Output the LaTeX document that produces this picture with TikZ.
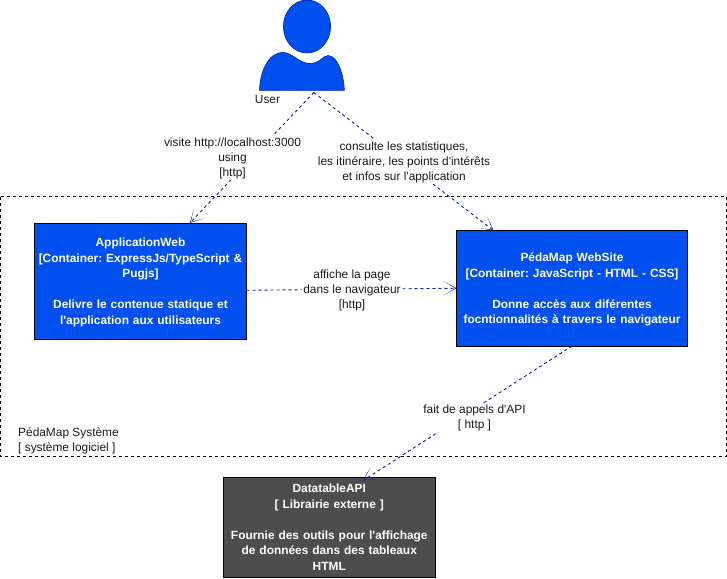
\documentclass[tikz,border=0pt]{standalone}
\usepackage{fontspec}
\setmainfont{Liberation Sans}
\usetikzlibrary{calc,arrows.meta}
\definecolor{bluefill}{HTML}{0050EF}
\definecolor{bluestroke}{HTML}{001DBC}
\definecolor{greyfill}{HTML}{4D4D4D}
\definecolor{txt}{HTML}{1A1A1A}
\newcommand{\topnudge}{\rule{0pt}{11.5pt}}
\tikzset{
  x=1pt,y=-1pt,
  box/.style={draw=black,line width=.9pt,outer sep=0pt,minimum width=#1 pt,text width=#1 pt - 2pt,align=center,font=\fontsize{11.9}{15.5}\selectfont\bfseries\frenchspacing,text=white,inner sep=0pt,anchor=north west},
  link/.style={draw=bluestroke,line width=.9pt,dash pattern=on 3pt off 3pt,-{Stealth[length=13pt,width=14pt,inset=11.7pt,line width=0pt,fill=bluestroke]}},
  lbl/.style={fill=white,align=center,text=txt,font=\fontsize{11.9}{15}\selectfont\frenchspacing,inner sep=1pt},
  plain/.style={align=left,text=txt,font=\fontsize{11.9}{15}\selectfont\frenchspacing,inner sep=0pt},
}
\begin{document}
\begin{tikzpicture}
\useasboundingbox (0,0) rectangle (727,578);
\draw[black,line width=.8pt,dash pattern=on 3pt off 3pt] (0.5,196.5) rectangle (726.3,456.5);
\fill[bluefill,draw=bluestroke,line width=.6pt] (307,26.5) ellipse [x radius=23.6,y radius=26.5];
\fill[bluefill,draw=bluestroke,line width=.6pt] (259.5,90.3)
  .. controls (260,72) and (268,52.5) .. (283,52.5)
  .. controls (292,52.5) and (299,63.5) .. (310,63.5)
  .. controls (320,63.5) and (323,55.5) .. (328,55.5)
  .. controls (338,55.5) and (344,76) .. (344.3,90.3) -- cycle;
\node[minimum width=85pt,minimum height=91pt,inner sep=0pt,outer sep=0pt] (user) at (301.5,45) {};
\node[plain,anchor=center] (userlabel) at (267.5,99.5) {User};
\node[box=212,minimum height=116pt,fill=bluefill] (app) at (34.5,223) {\topnudge ApplicationWeb\\{}[Container: ExpressJs/TypeScript \&\\Pugjs]\\[15.5pt]Delivre le contenue statique et\\l\textquotesingle application aux utilisateurs};
\node[box=231,minimum height=115.5pt,fill=bluefill] (site) at (456.5,230.5) {\topnudge PédaMap WebSite\\{}[Container: JavaScript - HTML - CSS]\\[15.5pt]Donne accès aux diférentes\\focntionnalités à travers le navigateur};
\node[box=211.5,minimum height=100pt,fill=greyfill] (api) at (223.5,477) {DatatableAPI\\{}[ Librairie externe ]\\[15.5pt]Fournie des outils pour l\textquotesingle affichage\\de données dans des tableaux\\HTML};
\coordinate (uout) at ($(user.south west)!0.645!(user.south east)+(0,2)$);
\draw[link] (uout) -- ($(app.north west)!0.733!(app.north east)$);
\draw[link] (uout) -- ($(site.north west)!0.16!(site.north east)$);
\draw[link] ($(app.south east)!0.42!(app.north east)$) -- ($(site.south west)!0.5!(site.north west)$);
\draw[link] ($(site.south west)!0.5!(site.south east)$) -- ($(api.north west)!0.66!(api.north east)+(0,3.5)$);
\node[lbl] (l1) at (232.5,158) {visite http://localhost:3000\\using\\{}[http]};
\node[lbl] (l2) at (404,162) {consulte les statistiques,\\les itinéraire, les points d\textquotesingle intérêts\\et infos sur l\textquotesingle application};
\node[lbl] (l3) at (352,290.5) {affiche la page\\dans le navigateur\\{}[http]};
\node[lbl] (l4) at (474.5,418) {fait de appels d\textquotesingle API\\{}[ http ]};
\node[plain,anchor=north west] (sys) at (18,428) {PédaMap Système\\{}[ système logiciel ]};
\end{tikzpicture}
\end{document}
